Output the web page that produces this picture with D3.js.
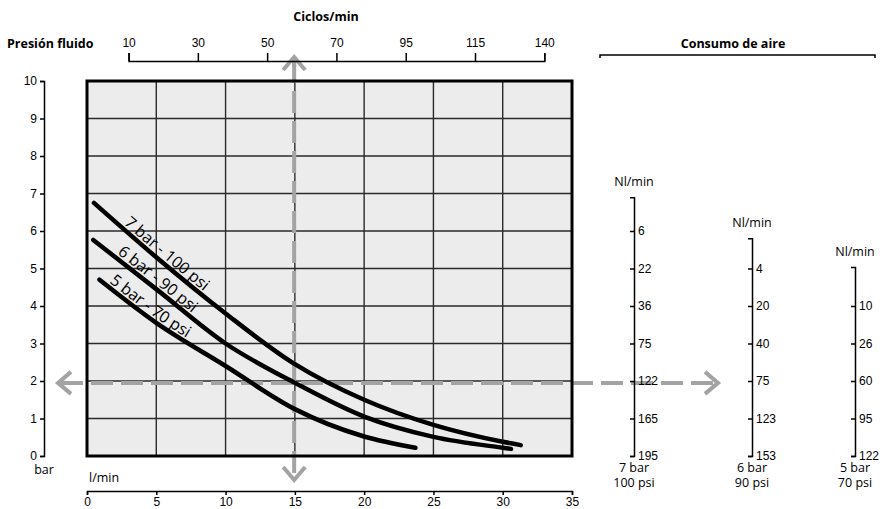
<!DOCTYPE html>
<html><head><meta charset="utf-8">
<script src="https://cdn.jsdelivr.net/npm/d3@7"></script>
<style>
html,body{margin:0;padding:0;background:#fff;}
svg{display:block;}
</style></head>
<body><svg id="chart" width="880" height="509"></svg>
<script>
// ---------- data ----------
const flowTicks = [0, 5, 10, 15, 20, 25, 30, 35];          // l/min
const pressureTicks = [0, 1, 2, 3, 4, 5, 6, 7, 8, 9, 10];  // bar
const cycleLabels = ["10", "30", "50", "70", "95", "115", "140"]; // Ciclos/min
const cycleStart = 3, cycleEnd = 33; // l/min positions of first/last cycle tick

const curve7 = [[0.5,6.75],[5,5.3],[10,3.8],[15,2.45],[20,1.5],[25,0.83],[30,0.38],[31.3,0.29]];
const curve6 = [[0.45,5.76],[5,4.45],[10,3.0],[15,1.95],[20,1.05],[25,0.51],[30,0.22],[30.6,0.19]];
const curve5 = [[0.9,4.7],[5,3.55],[10,2.4],[15,1.25],[20,0.52],[23.7,0.22]];
const curveNames = ["7 bar - 100 psi", "6 bar - 90 psi", "5 bar - 70 psi"];

const air7Levels = [6,5,4,3,2,1,0], air7Labels = ["6","22","36","75","122","165","195"], air7Top = 6.9;
const air6Levels = [5,4,3,2,1,0],   air6Labels = ["4","20","40","75","123","153"],     air6Top = 5.81;
const air5Levels = [4,3,2,1,0],     air5Labels = ["10","26","60","95","122"],          air5Top = 5.04;
const airNames = [["7 bar","100 psi"],["6 bar","90 psi"],["5 bar","70 psi"]];

const guideFlow = 14.95, guidePressure = 1.95;

// ---------- layout ----------
const svg = d3.select("#chart");
const numFont = "'Liberation Sans', Arial, sans-serif";
const txtFont = "'Open Sans', 'Noto Sans', sans-serif";
const plot = {left: 87, right: 572, top: 81, bottom: 456};

const x = d3.scaleLinear().domain([0, 35]).range([plot.left, plot.right]);
const y = d3.scaleLinear().domain([0, 10]).range([plot.bottom, plot.top]);

// plot background
svg.append("rect").attr("x", x(0)).attr("y", y(10))
  .attr("width", x(35) - x(0)).attr("height", y(0) - y(10)).attr("fill", "#ececec");

// grid
const grid = svg.append("g").attr("stroke", "#2a2a2a").attr("stroke-width", 1.4);
flowTicks.slice(1, -1).forEach(v => grid.append("line")
  .attr("x1", x(v)).attr("x2", x(v)).attr("y1", y(0)).attr("y2", y(10)));
pressureTicks.slice(1, -1).forEach(v => grid.append("line")
  .attr("x1", x(0)).attr("x2", x(35)).attr("y1", y(v)).attr("y2", y(v)));

// guide dashed arrows
const gray = "#a3a3a3";
const guides = svg.append("g").attr("stroke", gray).attr("stroke-width", 4).attr("fill", "none");
const gx = x(guideFlow), gy = y(guidePressure);
const vTop = 57, vBot = 480, hLeft = x(0) - 29, hRight = 718;
guides.append("line").attr("x1", gx).attr("x2", gx).attr("y1", vTop + 4).attr("y2", vBot)
  .attr("stroke-dasharray", "22,8");
guides.append("line").attr("x1", hLeft + 3).attr("x2", hRight).attr("y1", gy).attr("y2", gy)
  .attr("stroke-dasharray", "22,8");
const arrowArm = 11, arrowLen = 13;
guides.append("path").attr("d", `M${gx-arrowArm},${vTop+arrowLen}L${gx},${vTop}L${gx+arrowArm},${vTop+arrowLen}`);
guides.append("path").attr("d", `M${gx-arrowArm},${vBot-arrowLen}L${gx},${vBot}L${gx+arrowArm},${vBot-arrowLen}`);
guides.append("path").attr("d", `M${hLeft+arrowLen},${gy-arrowArm}L${hLeft},${gy}L${hLeft+arrowLen},${gy+arrowArm}`);
guides.append("path").attr("d", `M${hRight-arrowLen},${gy-arrowArm}L${hRight},${gy}L${hRight-arrowLen},${gy+arrowArm}`);
guides.append("line").attr("x1", gx).attr("x2", gx).attr("y1", vTop).attr("y2", vTop + 10);
guides.append("line").attr("x1", hLeft).attr("x2", hLeft + 10).attr("y1", gy).attr("y2", gy);

// plot border
svg.append("rect").attr("x", x(0)).attr("y", y(10))
  .attr("width", x(35) - x(0)).attr("height", y(0) - y(10))
  .attr("fill", "none").attr("stroke", "#000").attr("stroke-width", 3);

// curves
const line = d3.line().x(d => x(d[0])).y(d => y(d[1])).curve(d3.curveMonotoneX);
const curves = [curve7, curve6, curve5];
const labelOffsets = [36, 27, 9];
curves.forEach((c, i) => {
  svg.append("path").attr("id", "curve" + i).attr("d", line(c))
    .attr("fill", "none").attr("stroke", "#000").attr("stroke-width", 4.5)
    .attr("stroke-linecap", "round");
  svg.append("text").attr("font-family", txtFont).attr("font-size", 16).attr("dy", -4)
    .append("textPath").attr("href", "#curve" + i).attr("startOffset", labelOffsets[i])
    .text(curveNames[i]);
});

// left axis
const axL = svg.append("g").attr("transform", `translate(44,0)`)
  .call(d3.axisLeft(y).tickValues(pressureTicks).tickSize(4).tickSizeOuter(4).tickPadding(3));
axL.selectAll("text").attr("font-family", numFont).attr("font-size", 12).attr("fill", "#000");
axL.selectAll("path,line").attr("stroke", "#000").attr("stroke-width", 1.5);

// bottom axis
const axB = svg.append("g").attr("transform", `translate(0,491)`)
  .call(d3.axisBottom(x).tickValues(flowTicks).tickSize(4).tickSizeOuter(4).tickPadding(2));
axB.selectAll("text").attr("font-family", numFont).attr("font-size", 12).attr("fill", "#000");
axB.selectAll("path,line").attr("stroke", "#000").attr("stroke-width", 1.5);

// top axis (cycles)
const xc = d3.scalePoint().domain(cycleLabels).range([x(cycleStart), x(cycleEnd)]);
const axT = svg.append("g").attr("transform", `translate(0,61)`)
  .call(d3.axisTop(xc).tickSize(8).tickSizeOuter(8).tickPadding(6));
axT.selectAll("text").attr("font-family", numFont).attr("font-size", 12).attr("fill", "#000");
axT.selectAll("path,line").attr("stroke", "#000").attr("stroke-width", 1.5);

// titles
const title = (t, tx, ty, anchor, bold, size) => svg.append("text").attr("x", tx).attr("y", ty)
  .attr("text-anchor", anchor).attr("font-family", txtFont).attr("font-weight", bold ? 700 : 400)
  .attr("font-size", size).attr("fill", "#000").text(t);
title("Ciclos/min", 326, 21, "middle", true, 12.5);
title("Presión fluido", 7, 48, "start", true, 12.5);
title("Consumo de aire", 733, 48, "middle", true, 12.5);
title("bar", 44, 474, "middle", false, 12.5);
title("l/min", 89, 482, "start", false, 12.5);

// consumo bracket
svg.append("path").attr("d", "M600,58V55H875V58").attr("fill", "none")
  .attr("stroke", "#000").attr("stroke-width", 1.5);

// air-consumption axes
const airAxes = [
  {xpos: 634, levels: air7Levels, labels: air7Labels, top: air7Top, name: airNames[0]},
  {xpos: 752, levels: air6Levels, labels: air6Labels, top: air6Top, name: airNames[1]},
  {xpos: 855, levels: air5Levels, labels: air5Labels, top: air5Top, name: airNames[2]}
];
airAxes.forEach(a => {
  const s = d3.scaleLinear().domain([0, a.top]).range([y(0), y(a.top)]);
  const ax = svg.append("g").attr("transform", `translate(${a.xpos},0)`)
    .call(d3.axisRight(s).tickValues(a.levels).tickFormat((d, i) => a.labels[i])
      .tickSizeInner(-4).tickSizeOuter(-4).tickPadding(4));
  ax.selectAll("text").attr("font-family", numFont).attr("font-size", 12).attr("fill", "#000");
  ax.selectAll("path,line").attr("stroke", "#000").attr("stroke-width", 1.5);
  title("Nl/min", a.xpos, s(a.top) - 11, "middle", false, 12.5);
  title(a.name[0], a.xpos, 472, "middle", false, 12.5);
  title(a.name[1], a.xpos, 487, "middle", false, 12.5);
});
</script></body></html>
